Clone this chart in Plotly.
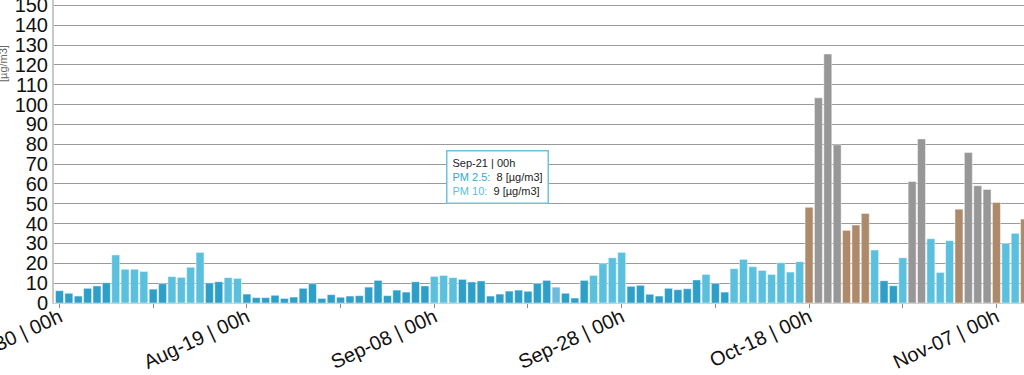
import pandas as pd
import plotly.graph_objects as go

# ---- data ----
start_date = "2019-07-30"
pm_values = [
    6.2, 4.9, 3.5, 7.4, 8.6, 10.2, 24.2, 17.0, 17.0, 15.9,
    7.0, 9.7, 13.3, 12.9, 18.0, 25.5, 10.1, 10.7, 12.8, 12.4,
    4.5, 2.7, 2.7, 3.9, 2.3, 3.0, 7.4, 9.7, 2.3, 4.2,
    2.9, 3.5, 3.7, 8.0, 11.4, 3.7, 6.5, 5.5, 10.7, 8.6,
    13.4, 13.9, 12.8, 11.9, 10.6, 11.1, 3.5, 4.5, 6.0, 6.5,
    5.9, 9.9, 11.4, 8.0, 4.9, 2.5, 11.4, 13.9, 19.8, 22.8,
    25.5, 8.4, 8.9, 4.4, 3.5, 7.4, 6.7, 7.2, 11.6, 14.4,
    9.9, 5.5, 17.3, 22.0, 18.3, 16.4, 14.4, 20.3, 15.6, 20.8,
    48.2, 103.4, 125.5, 79.7, 36.6, 39.3, 45.1, 26.7, 11.2, 8.7,
    22.8, 61.2, 82.7, 32.4, 15.4, 31.4, 47.3, 75.8, 59.1, 57.2,
    50.7, 30.0, 35.1, 42.3,
]
level_limits = [12.0, 35.4, 55.4]
level_colors = ["#2e9fc9", "#5bc0de", "#ad8a6a", "#979797"]
hover_color = "#6dbbdb"
hover_label = "Sep-21 | 00h"
hover_pm25 = 8
hover_pm10 = 9
unit = "[µg/m3]"

dates = pd.date_range(start_date, periods=len(pm_values), freq="D")


def level_color(v):
    for lim, c in zip(level_limits, level_colors):
        if v <= lim:
            return c
    return level_colors[-1]


colors = []
for d, v in zip(dates, pm_values):
    if d.strftime("%b-%d | %Hh") == hover_label:
        colors.append(hover_color)
    else:
        colors.append(level_color(v))

fig = go.Figure(
    go.Bar(
        x=dates,
        y=pm_values,
        marker=dict(color=colors, line=dict(color="rgba(255,255,255,0.45)", width=1)),
        hoverinfo="skip",
    )
)

t0 = pd.Timestamp(start_date)
x_start = t0 - pd.Timedelta(days=0.587)
x_end = t0 + pd.Timedelta(days=102.94)

font_family = "Liberation Sans, Arial, sans-serif"

fig.update_layout(
    width=1024,
    height=375,
    margin=dict(l=54, r=0, t=0, b=72),
    paper_bgcolor="white",
    plot_bgcolor="white",
    bargap=0.15,
    showlegend=False,
    font=dict(family=font_family, color="#222"),
    xaxis=dict(
        type="date",
        range=[x_start, x_end],
        tick0=start_date,
        dtick=20 * 86400000,
        tickformat="%b-%d | %Hh",
        tickangle=-25,
        tickfont=dict(size=20, color="#111"),
        ticks="outside",
        ticklen=4,
        tickcolor="#888",
        ticklabelstandoff=-10,
        minor=dict(dtick=10 * 86400000, ticks="outside", ticklen=4, tickcolor="#888", showgrid=False),
        showgrid=False,
        showline=True,
        linecolor="#d0d0d0",
        linewidth=1,
        zeroline=False,
        automargin=False,
        ticklabeloverflow="allow",
    ),
    yaxis=dict(
        range=[0, 152.7],
        dtick=10,
        tickfont=dict(size=20, color="#111"),
        showgrid=True,
        gridcolor="#9a9a9a",
        gridwidth=1,
        zeroline=False,
        showline=True,
        linecolor="#c8c8c8",
        linewidth=2,
        ticks="",
        automargin=False,
        ticklabeloverflow="allow",
    ),
)

# y-axis unit label (rotated)
fig.add_annotation(
    xref="paper", yref="paper",
    x=(3 - 54) / 970, y=(303 - 64) / 303,
    xanchor="center", yanchor="middle",
    text=unit, textangle=-90, showarrow=False,
    font=dict(size=11, color="#666", family=font_family),
)

# tooltip box
tip = (
    f"{hover_label}<br>"
    f"<span style='color:#3aa5d1'>PM 2.5:</span>  {hover_pm25} {unit}<br>"
    f"<span style='color:#5bc0de'>PM 10:</span>  {hover_pm10} {unit}"
)
fig.add_annotation(
    xref="paper", yref="paper",
    x=(497 - 54) / 970, y=(303 - 176.5) / 303,
    xanchor="center", yanchor="middle",
    text=tip, showarrow=False, align="left",
    font=dict(size=11, color="#222", family=font_family),
    bgcolor="white", bordercolor="#6cc3e0", borderwidth=1.5, borderpad=5,
)

fig.write_html(
    "out.html",
    config={"displayModeBar": False},
    post_script="document.body.style.margin='0';document.body.style.overflow='hidden';",
)
